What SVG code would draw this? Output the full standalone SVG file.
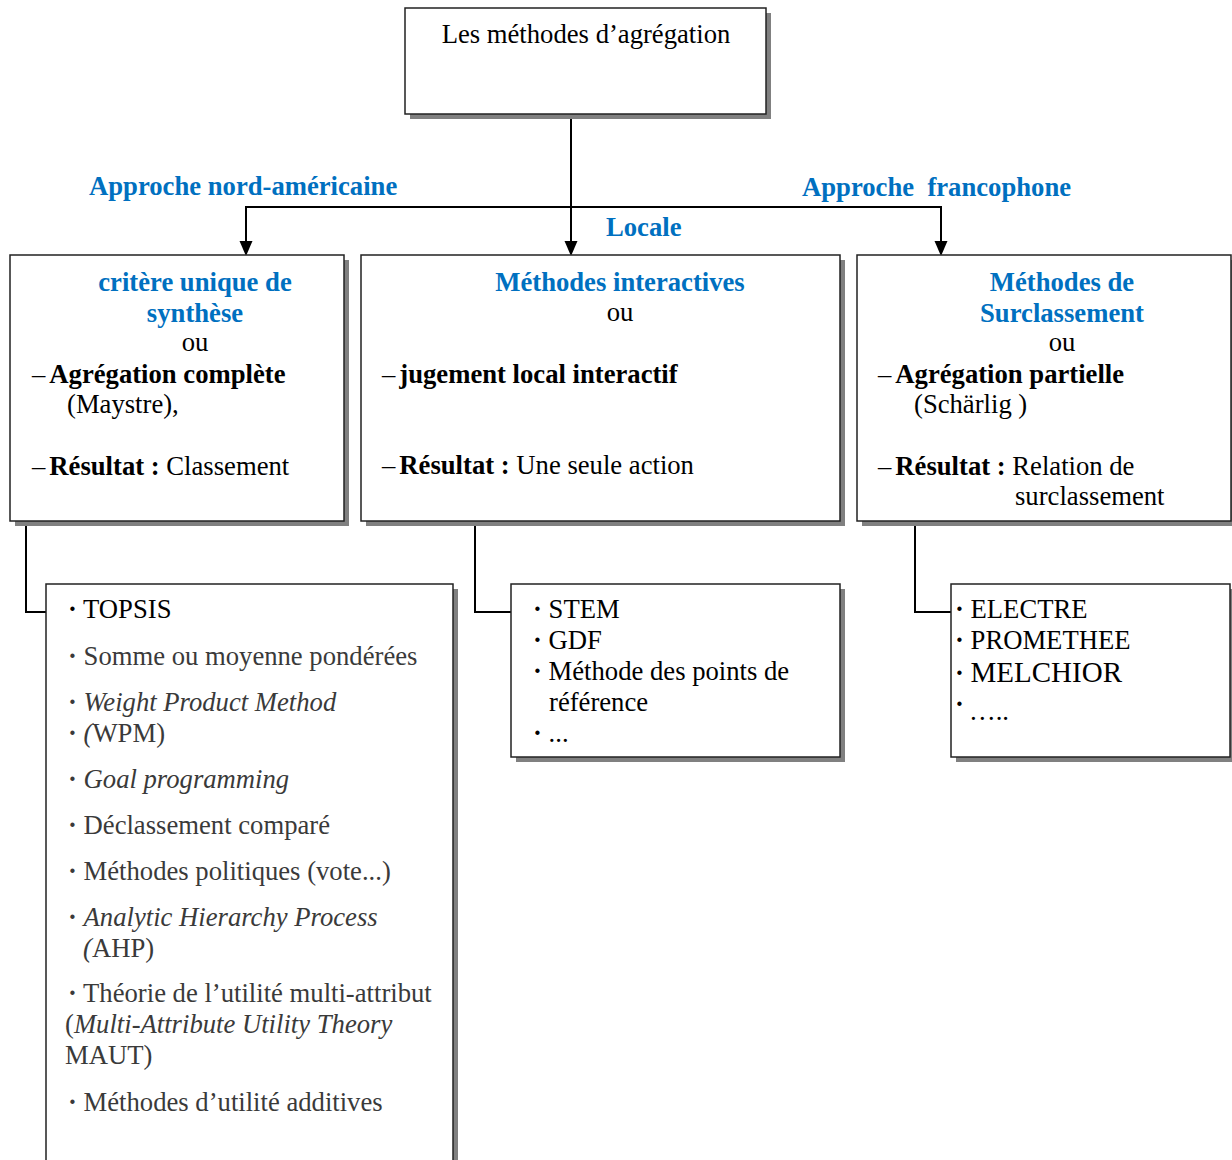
<svg xmlns="http://www.w3.org/2000/svg" width="1232" height="1160" viewBox="0 0 1232 1160">
<style>
.box{fill:#fff;stroke:#222;stroke-width:1.5}
.shadow{fill:#808080}
.t{font-family:"Liberation Serif","Times New Roman",serif;font-size:26.67px;fill:#000}
.blue{fill:#0070C0;font-weight:bold}
.b{font-weight:bold}
.g{fill:#3a3a3a}
.i{font-style:italic}
.c{text-anchor:middle}
.line{fill:none;stroke:#000;stroke-width:2}
.head{fill:#000}
</style>
<rect width="1232" height="1160" fill="#fff"/>

<g id="connectors">
<line class="line" x1="571" y1="114" x2="571" y2="243"/>
<polygon class="head" points="564.5,241 577.5,241 571,256"/>
<polyline class="line" points="246,243 246,207 941,207 941,243"/>
<polygon class="head" points="239.5,241 252.5,241 246,256"/>
<polygon class="head" points="934.5,241 947.5,241 941,256"/>
<polyline class="line" points="26,521 26,612 46,612"/>
<polyline class="line" points="475,521 475,612 511,612"/>
<polyline class="line" points="915,521 915,612 951,612"/>
</g>

<g id="labels">
<text class="t blue" x="89" y="195">Approche nord-américaine</text>
<text class="t blue" x="802" y="196" xml:space="preserve">Approche  francophone</text>
<text class="t blue" x="606" y="236">Locale</text>
</g>

<g id="root">
<rect class="shadow" x="410" y="13" width="361" height="106"/>
<rect class="box" x="405" y="8" width="361" height="106"/>
<text class="t c" x="586" y="43">Les méthodes d’agrégation</text>
</g>

<g id="agregation-complete">
<rect class="shadow" x="15" y="260" width="334" height="266"/>
<rect class="box" x="10" y="255" width="334" height="266"/>
<text class="t blue c" x="195" y="291">critère unique de</text>
<text class="t blue c" x="195" y="322">synthèse</text>
<text class="t c" x="195" y="351">ou</text>
<text class="t" x="32" y="383">–<tspan class="b" dx="4">Agrégation complète</tspan></text>
<text class="t" x="67" y="413">(Maystre),</text>
<text class="t" x="32" y="475">–<tspan class="b" dx="4">Résultat :</tspan> Classement</text>
</g>

<g id="methodes-interactives">
<rect class="shadow" x="366" y="260" width="479" height="266"/>
<rect class="box" x="361" y="255" width="479" height="266"/>
<text class="t blue c" x="620" y="291">Méthodes interactives</text>
<text class="t c" x="620" y="321">ou</text>
<text class="t" x="382" y="383">–<tspan class="b" dx="4">jugement local interactif</tspan></text>
<text class="t" x="382" y="474">–<tspan class="b" dx="4">Résultat :</tspan> Une seule action</text>
</g>

<g id="surclassement">
<rect class="shadow" x="862" y="260" width="374" height="266"/>
<rect class="box" x="857" y="255" width="374" height="266"/>
<text class="t blue c" x="1062" y="291">Méthodes de</text>
<text class="t blue c" x="1062" y="322">Surclassement</text>
<text class="t c" x="1062" y="351">ou</text>
<text class="t" x="878" y="383">–<tspan class="b" dx="4">Agrégation partielle</tspan></text>
<text class="t" x="914" y="413">(Schärlig )</text>
<text class="t" x="878" y="475">–<tspan class="b" dx="4">Résultat :</tspan> Relation de</text>
<text class="t" x="1015" y="505">surclassement</text>
</g>

<g id="liste-complete">
<rect class="shadow" x="51" y="589" width="407" height="580"/>
<rect class="box" x="46" y="584" width="407" height="590"/>
<text class="t" x="68" y="618"><tspan class="b">·</tspan> TOPSIS</text>
<text class="t g" x="68" y="665"><tspan class="b">·</tspan> Somme ou moyenne pondérées</text>
<text class="t g" x="68" y="711"><tspan class="b">·</tspan> <tspan class="i">Weight Product Method</tspan></text>
<text class="t g" x="68" y="742"><tspan class="b">·</tspan> <tspan class="i">(</tspan>WPM)</text>
<text class="t g" x="68" y="788"><tspan class="b">·</tspan> <tspan class="i">Goal programming</tspan></text>
<text class="t g" x="68" y="834"><tspan class="b">·</tspan> Déclassement comparé</text>
<text class="t g" x="68" y="880"><tspan class="b">·</tspan> Méthodes politiques (vote...)</text>
<text class="t g" x="68" y="926"><tspan class="b">·</tspan> <tspan class="i">Analytic Hierarchy Process</tspan></text>
<text class="t g" x="83" y="957"><tspan class="i">(</tspan>AHP)</text>
<text class="t g" x="68" y="1002"><tspan class="b">·</tspan> Théorie de l’utilité multi-attribut</text>
<text class="t g" x="65" y="1033">(<tspan class="i">Multi-Attribute Utility Theory</tspan></text>
<text class="t g" x="65" y="1064">MAUT)</text>
<text class="t g" x="68" y="1111"><tspan class="b">·</tspan> Méthodes d’utilité additives</text>
</g>

<g id="liste-interactives">
<rect class="shadow" x="516" y="589" width="329" height="173"/>
<rect class="box" x="511" y="584" width="329" height="173"/>
<text class="t" x="533" y="618"><tspan class="b">·</tspan> STEM</text>
<text class="t" x="533" y="649"><tspan class="b">·</tspan> GDF</text>
<text class="t" x="533" y="680"><tspan class="b">·</tspan> Méthode des points de</text>
<text class="t" x="549" y="711">référence</text>
<text class="t" x="533" y="742"><tspan class="b">·</tspan> ...</text>
</g>

<g id="liste-surclassement">
<rect class="shadow" x="956" y="589" width="279" height="173"/>
<rect class="box" x="951" y="584" width="279" height="173"/>
<text class="t" x="955" y="618"><tspan class="b">·</tspan> ELECTRE</text>
<text class="t" x="955" y="649"><tspan class="b">·</tspan> PROMETHEE</text>
<text class="t" x="955" y="682"><tspan class="b">·</tspan> <tspan style="font-size:29px">MELCHIOR</tspan></text>
<text class="t b" x="955" y="713">·</text>
<text class="t" x="969" y="720">…..</text>
</g>
</svg>
